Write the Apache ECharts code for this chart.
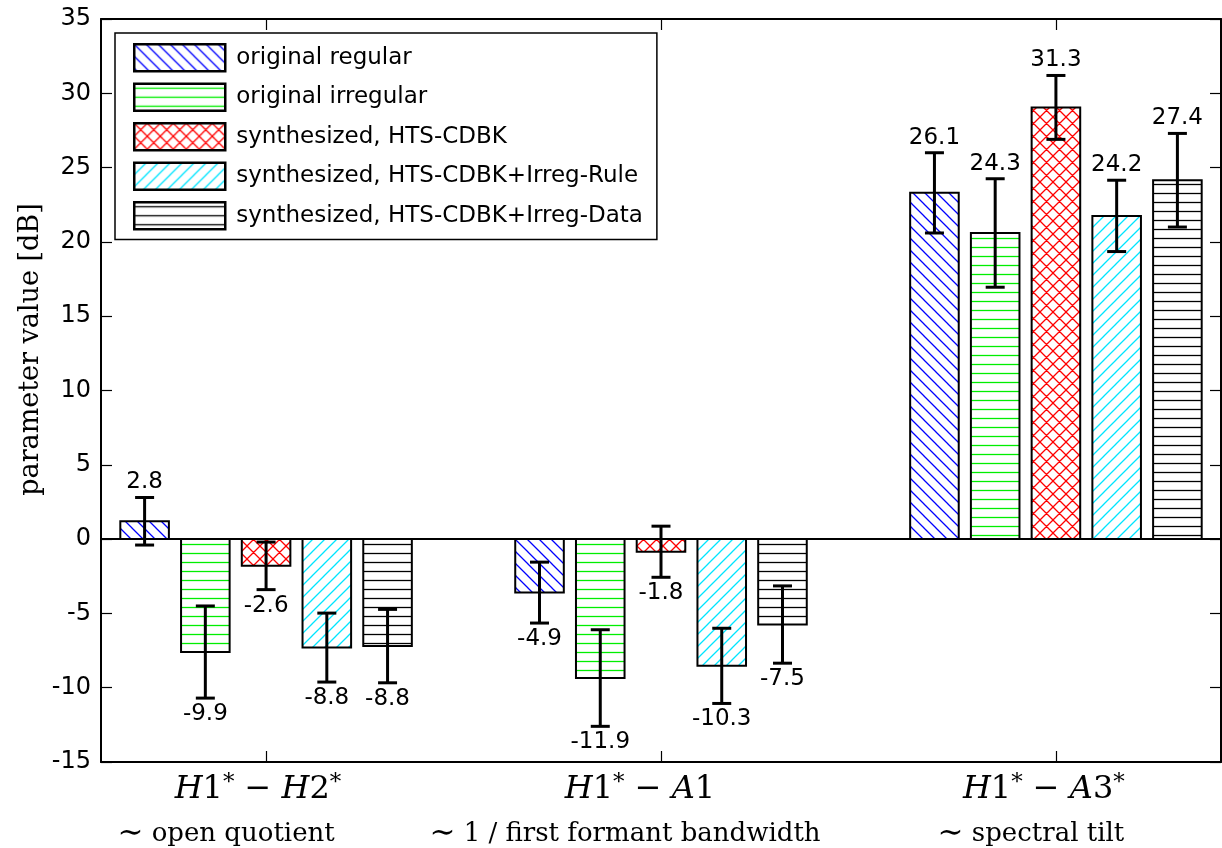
<!DOCTYPE html>
<html><head><meta charset="utf-8">
<script src="https://cdn.jsdelivr.net/npm/echarts@6/dist/echarts.min.js"></script>
<style>html,body{margin:0;padding:0;background:#fff}#c{width:1222px;height:848px}</style>
</head><body><div id="c"></div>
<script>
// ---------- data ----------
const groups = [1, 2, 3];
const parameterNames = ['H1* − H2*', 'H1* − A1', 'H1* − A3*'];
const correlates = ['∼ open quotient', '∼ 1 / first formant bandwidth', '∼ spectral tilt'];
const seriesNames = ['original regular', 'original irregular', 'synthesized, HTS-CDBK',
  'synthesized, HTS-CDBK+Irreg-Rule', 'synthesized, HTS-CDBK+Irreg-Data'];

const meanOrigRegular   = [1.2, -3.6, 23.3];
const sdOrigRegular     = [1.6, 2.05, 2.7];
const labelOrigRegular  = [2.8, -4.9, 26.1];

const meanOrigIrregular  = [-7.6, -9.35, 20.6];
const sdOrigIrregular    = [3.1, 3.25, 3.65];
const labelOrigIrregular = [-9.9, -11.9, 24.3];

const meanSynthCdbk  = [-1.8, -0.85, 29.05];
const sdSynthCdbk    = [1.6, 1.72, 2.15];
const labelSynthCdbk = [-2.6, -1.8, 31.3];

const meanSynthRule  = [-7.3, -8.53, 21.75];
const sdSynthRule    = [2.32, 2.53, 2.4];
const labelSynthRule = [-8.8, -10.3, 24.2];

const meanSynthData  = [-7.2, -5.75, 24.15];
const sdSynthData    = [2.47, 2.6, 3.15];
const labelSynthData = [-8.8, -7.5, 27.4];

const yMin = -15, yMax = 35, yStep = 5;

// ---------- styling helpers ----------
const means  = [meanOrigRegular, meanOrigIrregular, meanSynthCdbk, meanSynthRule, meanSynthData];
const sds    = [sdOrigRegular, sdOrigIrregular, sdSynthCdbk, sdSynthRule, sdSynthData];
const labels = [labelOrigRegular, labelOrigIrregular, labelSynthCdbk, labelSynthRule, labelSynthData];

function makePattern(kind, color) {
  const c = document.createElement('canvas');
  const s = (kind === 'h') ? 9 : (kind === 'x' ? 13 : 12);
  c.width = s; c.height = s;
  const ctx = c.getContext('2d');
  ctx.fillStyle = '#fff'; ctx.fillRect(0, 0, s, s);
  ctx.strokeStyle = color; ctx.lineWidth = 1.3;
  ctx.beginPath();
  if (kind === 'h') {
    ctx.moveTo(0, 4.5); ctx.lineTo(s, 4.5);
  }
  if (kind === 'd' || kind === 'x') {
    for (let k = -1; k <= 1; k++) { ctx.moveTo(-1, -1 + k * s); ctx.lineTo(s + 1, s + 1 + k * s); }
  }
  if (kind === 'u' || kind === 'x') {
    for (let k = -1; k <= 1; k++) { ctx.moveTo(-1, s + 1 + k * s); ctx.lineTo(s + 1, -1 + k * s); }
  }
  ctx.stroke();
  return { image: c, repeat: 'repeat' };
}
const patterns = [
  makePattern('d', '#0000ff'),
  makePattern('h', '#00ee00'),
  makePattern('x', '#ff0000'),
  makePattern('u', '#00e5ff'),
  makePattern('h', '#000000')
];

const pitch = 0.1538, barW = 0.123;
function makeRenderer(si) {
  return function (params, api) {
    const g = api.value(0), m = api.value(1), sd = api.value(2), lab = api.value(3);
    const xc = g + (si - 2) * pitch;
    const p0 = api.coord([xc - barW / 2, 0]);
    const p1 = api.coord([xc + barW / 2, m]);
    const top = api.coord([xc, m + sd]);
    const bot = api.coord([xc, m - sd]);
    const cx = (p0[0] + p1[0]) / 2;
    const cap = 9.5;
    const ly = m >= 0 ? top[1] - 15 : bot[1] + 16;
    return {
      type: 'group',
      children: [
        { type: 'rect', shape: { x: Math.min(p0[0], p1[0]), y: Math.min(p0[1], p1[1]),
            width: Math.abs(p1[0] - p0[0]), height: Math.abs(p1[1] - p0[1]) },
          style: { fill: patterns[si], stroke: '#000', lineWidth: 2 } },
        { type: 'line', shape: { x1: cx, y1: top[1], x2: cx, y2: bot[1] }, style: { stroke: '#000', lineWidth: 3 } },
        { type: 'line', shape: { x1: cx - cap, y1: top[1], x2: cx + cap, y2: top[1] }, style: { stroke: '#000', lineWidth: 3 } },
        { type: 'line', shape: { x1: cx - cap, y1: bot[1], x2: cx + cap, y2: bot[1] }, style: { stroke: '#000', lineWidth: 3 } },
        { type: 'text', x: cx, y: ly, style: { text: lab.toFixed(1), fill: '#000', fontSize: 23,
            fontFamily: 'DejaVu Sans', textAlign: 'center', textVerticalAlign: 'middle' } }
      ]
    };
  };
}

const series = seriesNames.map(function (name, si) {
  const s = {
    type: 'custom',
    name: name,
    xAxisIndex: 0, yAxisIndex: 0,
    renderItem: makeRenderer(si),
    itemStyle: { color: patterns[si], borderColor: '#000', borderWidth: 2.5 },
    encode: { x: 0, y: 1 },
    data: groups.map(function (g, gi) { return [g, means[si][gi], sds[si][gi], labels[si][gi]]; }),
    z: 2
  };
  if (si === 4) {
    s.markLine = { silent: true, symbol: ['none', 'none'], label: { show: false },
      lineStyle: { color: '#000', width: 2, type: 'solid' }, data: [{ yAxis: 0 }] };
  }
  return s;
});

// x label rich text
const line1Shift = [-3, -16, -7];
const line2Shift = [-40, -36, -25];
const rich = {};
[0, 1, 2].forEach(function (i) {
  rich['mi' + i] = { fontFamily: 'DejaVu Serif', fontStyle: 'italic', fontSize: 32, color: '#000', lineHeight: 44 };
  rich['mr' + i] = { fontFamily: 'DejaVu Serif', fontSize: 32, color: '#000', lineHeight: 44 };
  rich['ms' + i] = { fontFamily: 'DejaVu Serif', fontSize: 23, color: '#000', lineHeight: 44, verticalAlign: 'top', padding: [4, 0, 0, 0] };
  rich['me' + i] = { fontFamily: 'DejaVu Serif', fontSize: 32, color: '#000', lineHeight: 44, padding: [0, -2 * line1Shift[i], 0, 0] };
  rich['t' + i] = { fontFamily: 'DejaVu Serif', fontSize: 31, color: '#000', lineHeight: 44 };
  rich['c' + i] = { fontFamily: 'DejaVu Serif', fontSize: 26, color: '#000', lineHeight: 44, padding: [0, -2 * line2Shift[i], 0, 0] };
});
function formatParam(str, i) {
  let out = '';
  for (const ch of str) {
    let st;
    if (/[A-Za-z]/.test(ch)) st = 'mi';
    else if (ch === '*') st = 'ms';
    else st = 'mr';
    out += '{' + st + i + '|' + ch + '}';
  }
  out += '{me' + i + '| }';
  return out;
}
function formatCorrelate(str, i) {
  const first = str.charAt(0);
  return '{t' + i + '|' + first + '}{c' + i + '|' + str.slice(1) + '}';
}

const chart = echarts.init(document.getElementById('c'), null, { renderer: 'canvas' });
chart.setOption({
  animation: false,
  backgroundColor: '#fff',
  grid: { left: 101, right: 1, top: 19, bottom: 86, containLabel: false, outerBoundsMode: 'none' },
  legend: {
    orient: 'vertical', left: 115, top: 33,
    padding: [10, 14, 9, 18],
    itemWidth: 91, itemHeight: 27, itemGap: 10,
    icon: 'rect', selectedMode: false,
    backgroundColor: '#fff', borderColor: '#000', borderWidth: 1.5,
    itemStyle: { borderColor: '#000', borderWidth: 2.5 },
    textStyle: { fontFamily: 'DejaVu Sans', fontSize: 23, color: '#000', padding: [0, 0, 0, 6] },
    data: seriesNames
  },
  xAxis: [
    {
      type: 'value', position: 'bottom', min: 0.582, max: 3.418,
      axisLine: { show: true, onZero: false, lineStyle: { color: '#000', width: 2 } },
      axisTick: { show: true, inside: true, length: 11, customValues: groups, lineStyle: { color: '#000', width: 1.2 } },
      axisLabel: {
        show: true, customValues: groups, margin: 6,
        formatter: function (v) {
          const i = groups.indexOf(Math.round(v));
          if (i < 0) return '';
          return formatParam(parameterNames[i], i) + '\n' + formatCorrelate(correlates[i], i);
        },
        rich: rich
      },
      splitLine: { show: false }
    },
    {
      type: 'value', position: 'top', min: 0.582, max: 3.418,
      axisLine: { show: true, onZero: false, lineStyle: { color: '#000', width: 2 } },
      axisTick: { show: true, inside: true, length: 11, customValues: groups, lineStyle: { color: '#000', width: 1.2 } },
      axisLabel: { show: false },
      splitLine: { show: false }
    }
  ],
  yAxis: [
    {
      type: 'value', position: 'left', min: yMin, max: yMax, interval: yStep,
      axisLine: { show: true, onZero: false, lineStyle: { color: '#000', width: 2 } },
      axisTick: { show: true, inside: true, length: 11, lineStyle: { color: '#000', width: 1.2 } },
      axisLabel: { show: true, margin: 10, fontFamily: 'DejaVu Sans', fontSize: 24, color: '#000' },
      splitLine: { show: false }
    },
    {
      type: 'value', position: 'right', min: yMin, max: yMax, interval: yStep,
      axisLine: { show: true, onZero: false, lineStyle: { color: '#000', width: 2 } },
      axisTick: { show: true, inside: true, length: 11, lineStyle: { color: '#000', width: 1.2 } },
      axisLabel: { show: false },
      splitLine: { show: false }
    }
  ],
  graphic: [{
    type: 'text', x: 30.5, y: 349.5, rotation: Math.PI / 2, silent: true,
    style: { text: 'parameter value [dB]', fontFamily: 'DejaVu Serif', fontSize: 27, fill: '#000',
      textAlign: 'center', textVerticalAlign: 'middle' }
  }],
  series: series
});
</script></body></html>
